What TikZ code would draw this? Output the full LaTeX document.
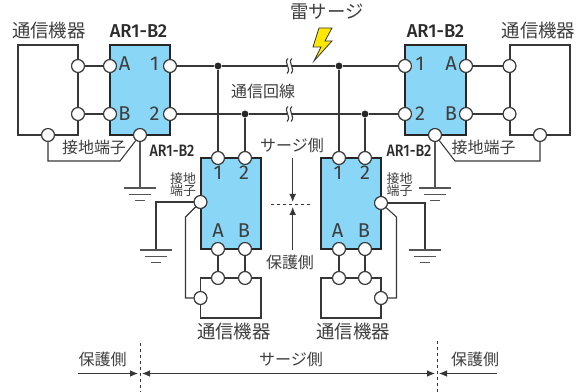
\documentclass[tikz,border=0pt]{standalone}
\usepackage{fontspec}
\setmainfont{Open Sans}
\newfontfamily\cjk{Noto Sans CJK JP}
\newfontfamily\lat{Fira Sans}
\newfontfamily\latb[FakeStretch=0.98]{Fira Sans Medium}
\newfontfamily\latc[FakeStretch=0.86]{Fira Sans Medium}
\usetikzlibrary{arrows.meta}
\definecolor{txt}{RGB}{62,62,62}
\definecolor{wire}{RGB}{55,55,55}
\definecolor{boxblue}{RGB}{137,214,247}
\tikzset{x=0.75pt,y=-0.75pt,
 unit/.style={draw=black!85,line width=1.75pt,fill=boxblue},
 equip/.style={draw=wire,line width=0.8pt},
 wireline/.style={draw=wire,line width=0.8pt},
 term/.style={circle,draw=wire,fill=white,line width=0.8pt,minimum size=9.6pt,inner sep=0pt},
 dotj/.style={circle,fill=black!85,minimum size=5.2pt,inner sep=0pt},
 jp/.style={text=txt,font=\cjk\fontsize{12}{12}\selectfont,inner sep=0pt},
 jpl/.style={text=txt,font=\cjk\fontsize{13.8}{13.8}\selectfont,inner sep=0pt},
 jps/.style={text=txt,font=\cjk\fontsize{9.7}{9.5}\selectfont,inner sep=0pt,align=center},
 ar/.style={text=txt!70!black,font=\latb\fontsize{14}{14}\selectfont,inner sep=0pt},
 ars/.style={text=txt!70!black,font=\latc\fontsize{12.4}{12.4}\selectfont,inner sep=0pt},
 pin/.style={text=txt,font=\lat\fontsize{15}{15}\selectfont,inner sep=0pt},
 gnd/.style={draw=wire!85,line width=0.85pt},
 dim/.style={draw=wire,line width=0.75pt,-{Latex[length=6pt,width=5pt]}},
 dashv/.style={draw=wire,line width=0.7pt,dash pattern=on 2pt off 2.5pt}}
\newcommand{\groundat}[2]{%
 \draw[gnd] (#1-16,#2)--(#1+16,#2);
 \draw[gnd] (#1-11,#2+6.5)--(#1+11,#2+6.5);
 \draw[gnd] (#1-5,#2+12.5)--(#1+5,#2+12.5);}
\begin{document}
\begin{tikzpicture}
\useasboundingbox (0,0) rectangle (587,392);
% coordinates
\coordinate (brA) at (287,66);
\coordinate (brB) at (287,114);
\coordinate (brC) at (292,66);
\coordinate (brD) at (292,114);
\coordinate (gL) at (140,188);
\coordinate (gR) at (435,188);
\coordinate (gLL) at (156,250);
\coordinate (gRR) at (425,250);
\coordinate (kL) at (120,161);
\coordinate (kLb) at (48,161);
\coordinate (kR) at (455,161);
\coordinate (kRb) at (540,161);
% boxes
\draw[equip] (18,45) rectangle (78,135);
\draw[equip] (510,45) rectangle (570,135);
\draw[equip] (200.5,278) rectangle (261,318);
\draw[equip] (321,278) rectangle (381,318);
\draw[unit] (110,45) rectangle (170,135);
\draw[unit] (405,45) rectangle (466,135);
\draw[unit] (201,158) rectangle (261,249);
\draw[unit] (321,158) rectangle (381,249);
% terminals
\foreach \n/\x/\y in {eA/78/66,eB/78/114,eG/48/135,uA/110/66,uB/110/114,u1/170/66,u2/170/114,uG/140/135,
 v1/405/66,v2/405/114,vA/466/66,vB/466/114,vG/435/135,fA/509.5/66,fB/509.5/114,fG/540/135,
 p1/218/158,p2/245/158,pG/200.5/202,pA/218/249,pB/245/249,qA/218/278,qB/245/278,qG/200.5/298,
 r1/339/158,r2/365/158,rG/381/203,rA/339/249,rB/365/249,sA/339/278,sB/365/278,sG/381/298}
 {\node[term] (\n) at (\x,\y) {};}
% junctions
\node[dotj] (j1) at (218,66) {};
\node[dotj] (j2) at (245,114) {};
\node[dotj] (j3) at (339,66) {};
\node[dotj] (j4) at (365,114) {};
% wires
\draw[wireline] (eA)--(uA) (eB)--(uB);
\draw[wireline] (u1)--(j1)--(brA);
\draw[wireline] (u2)--(j2)--(brB);
\draw[wireline] (brC)--(j3)--(v1);
\draw[wireline] (brD)--(j4)--(v2);
\draw[wireline] (vA)--(fA) (vB)--(fB);
\draw[wireline] (j1)--(p1) (j2)--(p2) (j3)--(r1) (j4)--(r2);
\draw[wireline] (pA)--(qA) (pB)--(qB) (rA)--(sA) (rB)--(sB);
\draw[wireline] (eG)--(kLb)--(kL)--(uG);
\draw[wireline] (fG)--(kRb)--(kR)--(vG);
\draw[gnd] (uG)--(gL) (vG)--(gR);
\draw[wireline] (pG)-|(gLL);
\draw[wireline] (rG)-|(gRR);
\draw[wireline] (pG)--(185.5,217)--(185.5,298)--(qG);
\draw[wireline] (rG)--(396.5,217)--(396.5,298)--(sG);
\groundat{140}{188}
\groundat{435}{188}
\groundat{156}{250}
\groundat{425}{250}
% line breaks
\foreach \y in {66,114}{
 \draw[wireline] (288,\y-7.5) .. controls (283,\y-3) and (292,\y+2) .. (287,\y+7.5);
 \draw[wireline] (292,\y-7.5) .. controls (287,\y-3) and (296,\y+2) .. (291,\y+7.5);}
% terminals on top again
\foreach \x/\y in {78/66,78/114,48/135,110/66,110/114,170/66,170/114,140/135,
 405/66,405/114,466/66,466/114,435/135,509.5/66,509.5/114,540/135,
 218/158,245/158,200.5/202,218/249,245/249,218/278,245/278,200.5/298,
 339/158,365/158,381/203,339/249,365/249,339/278,365/278,381/298}
 {\node[term] at (\x,\y) {};}
% pins
\foreach \t/\x/\y in {A/124.5/64,B/124.5/114,1/154.5/64,2/154.5/114,
 1/420/64,2/420/114,A/451/64,B/451/114,
 1/218/173,2/244/173,A/218/231,B/244/231,
 1/338/173,2/365/173,A/337.5/231,B/364/231}
 {\node[pin] at (\x,\y) {\t};}
% labels
\node[jpl] (t1) at (49,31) {通信機器};
\node[jpl] (t2) at (538.5,31) {通信機器};
\node[jpl] (t3) at (234,332) {通信機器};
\node[jpl] (t4) at (353,332) {通信機器};
\node[ar] (a1) at (138.5,31) {AR1-B2};
\node[ar] (a2) at (435.5,31) {AR1-B2};
\node[ars] (a3) at (172,151) {AR1-B2};
\node[ars] (a4) at (409,151) {AR1-B2};
\node[jp] (l1) at (94,147) {接地端子};
\node[jp] (l2) at (483.5,147) {接地端子};
\node[jps] (l3) at (183,184.5) {接地\\端子};
\node[jps] (l4) at (399.5,184.5) {接地\\端子};
\node[jp] (l5) at (263,91) {通信回線};
\node[jpl] (l6) at (327,12) {雷サージ};
\node[jp] (l7) at (292,145) {サージ側};
\node[jp] (l8) at (290,262) {保護側};
\node[jp] (l9) at (102.5,359) {保護側};
\node[jp] (l10) at (291,359) {サージ側};
\node[jp] (l11) at (475,359) {保護側};
% lightning
\draw[fill=yellow!90!orange,draw=black!80,line width=0.6pt] (319,28)--(332,28)--(325,41)--(332,41)--(314,61)--(321,47)--(313,47)--cycle;
% dimension arrows
\coordinate (d1) at (292.7,158);
\coordinate (d2) at (292.7,250);
\draw[dim] (d1)--(292.7,202);
\draw[dim] (d2)--(292.7,207);
\draw[dashv] (271,204)--(312,204);
\draw[dashv] (140,343)--(140,392);
\draw[dashv] (437,341)--(437,392);
\coordinate (b1) at (78,373.5);
\coordinate (b2) at (497,373.5);
\draw[dim] (b1)--(138,373.5);
\draw[dim] (290,373.5)--(142,373.5);
\draw[dim] (290,373.5)--(435,373.5);
\draw[dim] (b2)--(439,373.5);
\end{tikzpicture}
\end{document}
